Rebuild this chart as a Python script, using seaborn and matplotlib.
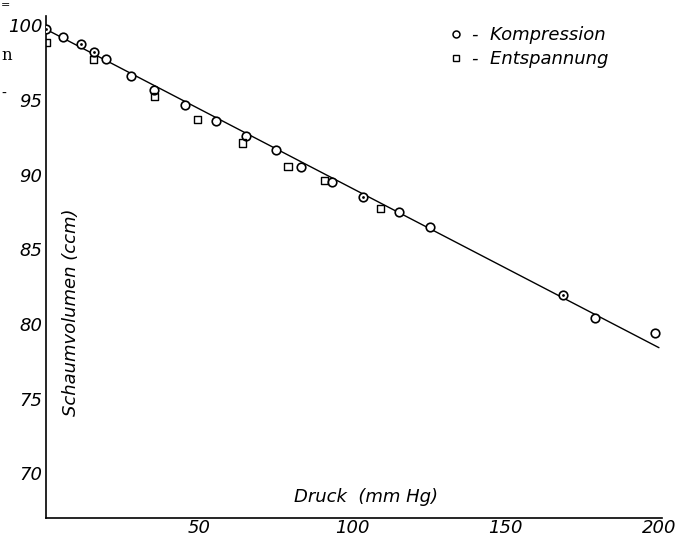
import numpy as np
import pandas as pd
import matplotlib
matplotlib.use("Agg")
import matplotlib.pyplot as plt
import matplotlib.transforms as mtransforms
from matplotlib.lines import Line2D
import seaborn as sns

# ---- data ----
komp_x = [0, 5.4, 11.3, 15.5, 19.5, 27.5, 35.2, 45.4, 55.4, 65.2, 75.1, 83.0,
          93.4, 103.3, 115.1, 125.2, 168.8, 179.1, 198.8]
komp_y = [100.0, 99.5, 99.0, 98.5, 98.0, 96.9, 95.95, 94.95, 93.9, 92.9, 91.9,
          90.8, 89.8, 88.8, 87.8, 86.8, 82.2, 80.7, 79.7]
komp_dotted = [0, 2, 3, 13, 16]   # circles drawn with a centre dot

entsp_x = [0, 15.5, 35.2, 49.3, 64.1, 78.9, 90.9, 109.1]
entsp_y = [99.1, 98.0, 95.5, 94.0, 92.4, 90.8, 89.9, 88.0]

fit_x = [0, 200]
fit_y = [100.0, 78.7]

x_ticks = [50, 100, 150, 200]
y_ticks = [70, 75, 80, 85, 90, 95, 100]

x_label = "Druck  (mm Hg)"
y_label = "Schaumvolumen (ccm)"
series_names = ["Kompression", "Entspannung"]

# ---- build frames ----
df_k = pd.DataFrame({"x": komp_x, "y": komp_y, "Serie": series_names[0]})
df_e = pd.DataFrame({"x": entsp_x, "y": entsp_y, "Serie": series_names[1]})
df_dot = df_k.iloc[komp_dotted]
df_fit = pd.DataFrame({"x": fit_x, "y": fit_y})

sns.set_theme(style="white")
plt.rcParams["font.family"] = ["DejaVu Sans"]
plt.rcParams["text.color"] = "black"
plt.rcParams["axes.labelcolor"] = "black"

fig = plt.figure(figsize=(6.89, 5.36), dpi=100)
ax = fig.add_axes([46.3 / 689, 18 / 536, 615.7 / 689, 502 / 536])

sns.lineplot(data=df_fit, x="x", y="y", ax=ax, color="black", linewidth=1.0)
sns.scatterplot(data=df_k, x="x", y="y", ax=ax, marker="o", s=38,
                facecolor="white", edgecolor="black", linewidth=1.2, zorder=3)
sns.scatterplot(data=df_e, x="x", y="y", ax=ax, marker="s", s=26,
                facecolor="none", edgecolor="black", linewidth=1.0, zorder=3)
sns.scatterplot(data=df_dot, x="x", y="y", ax=ax, marker="o", s=4,
                color="black", linewidth=0, zorder=4)

ax.set_xlim(0, 201)
ax.set_ylim(67.3, 100.9)

for s in ["top", "right"]:
    ax.spines[s].set_visible(False)
for s in ["left", "bottom"]:
    ax.spines[s].set_color("black")
    ax.spines[s].set_linewidth(1.2)

ax.set_xticks(x_ticks)
ax.set_yticks(y_ticks)
ax.set_xticklabels([str(v) for v in x_ticks], fontstyle="italic", fontsize=13)
ax.set_yticklabels([str(v) for v in y_ticks], fontstyle="italic", fontsize=13)
ax.tick_params(axis="both", direction="in", length=6, width=1.0, color="black",
               labelcolor="black")
ax.tick_params(axis="x", pad=1)
ax.tick_params(axis="y", pad=3)
offset = mtransforms.ScaledTranslation(0, 3 / 72, fig.dpi_scale_trans)
for lab in ax.get_yticklabels():
    lab.set_transform(lab.get_transform() + offset)

ax.set_xlabel(x_label, fontstyle="italic", fontsize=13, color="black")
ax.xaxis.set_label_coords(0.519, 0.042)
ax.xaxis.label.set_va("center")
ax.set_ylabel(y_label, fontstyle="italic", fontsize=13, color="black")
ax.yaxis.set_label_coords(0.040, 0.41)
ax.yaxis.label.set_va("center")

handles = [
    Line2D([], [], marker="o", linestyle="none", markersize=5,
           markerfacecolor="white", markeredgecolor="black", markeredgewidth=1.1),
    Line2D([], [], marker="s", linestyle="none", markersize=4.5,
           markerfacecolor="white", markeredgecolor="black", markeredgewidth=1.0),
]
leg = fig.legend(handles, ["-  " + n for n in series_names],
                 loc="upper left", bbox_to_anchor=(447 / 689, 1 - 26 / 536),
                 frameon=False, handlelength=1.0, handletextpad=0.4,
                 borderpad=0, borderaxespad=0, labelspacing=0.35,
                 prop={"style": "italic", "size": 13})
for t in leg.get_texts():
    t.set_color("black")

# scan artefacts at the left edge
fig.text(1 / 689, 1 - 56 / 536, "n", family="DejaVu Serif", fontsize=12,
         color="black", ha="left", va="center")
fig.text(1 / 689, 1 - 5 / 536, "=", fontsize=8, color="black",
         ha="left", va="center")
fig.text(1 / 689, 1 - 94 / 536, "-", fontsize=10, color="black",
         ha="left", va="center")

fig.savefig("out.png", dpi=100, facecolor="white")
